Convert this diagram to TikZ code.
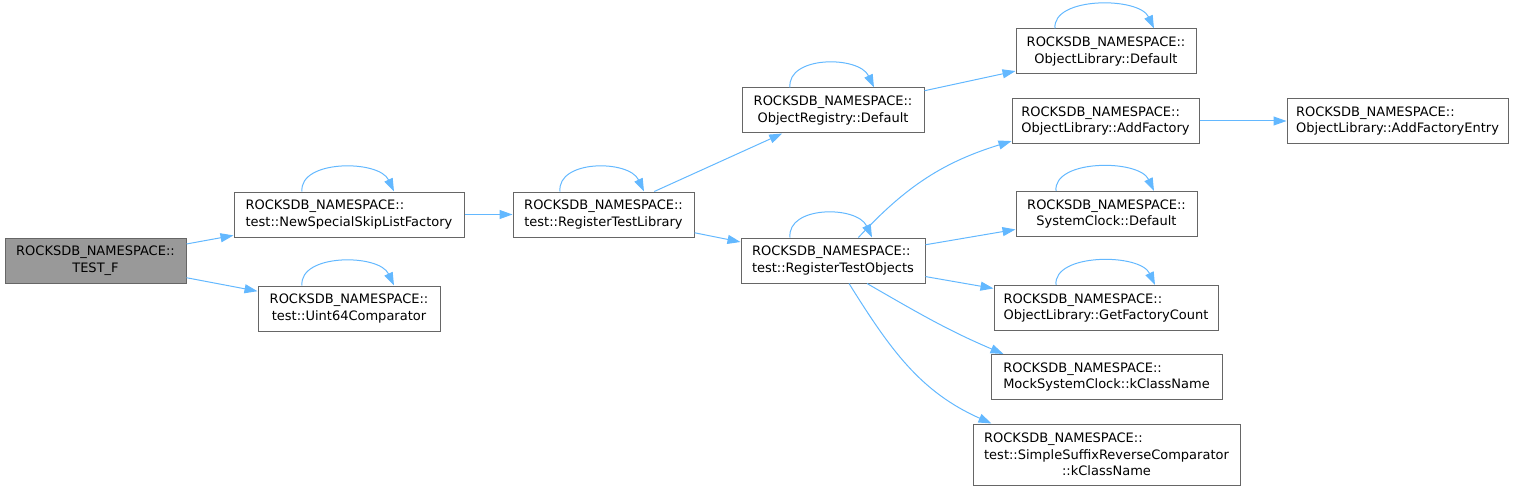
\documentclass[tikz,border=0pt]{standalone}
\usepackage{fontspec}
\setmainfont{DejaVu Sans}
\usetikzlibrary{arrows.meta, positioning, calc}
\definecolor{callblue}{HTML}{63B8FF}
\definecolor{fnborder}{HTML}{666666}
\definecolor{rootgray}{HTML}{999999}

\begin{document}
\begin{tikzpicture}[
      x=1pt, y=1pt,
      fn/.style={draw=fnborder, fill=white, line width=1pt, align=left,
        minimum height=45pt, inner xsep=4pt, inner ysep=2pt,
        font=\fontsize{13}{16.7}\selectfont},
      call/.style={->, draw=callblue, line width=1pt},
      >={Triangle[length=13pt, width=9pt]}
    ]
      \useasboundingbox (0,0) rectangle (1516,491);
      \node[fn, fill=rootgray, minimum width=181pt] (testf) at (95.5,230.5)
        {ROCKSDB\_NAMESPACE::\\\hfill TEST\_F\hfill\null};
      \node[fn, minimum width=230pt] (nssl) at (349,276.5)
        {ROCKSDB\_NAMESPACE::\\test::NewSpecialSkipListFactory};
      \node[fn, minimum width=182pt, below=48pt of nssl] (u64)
        {ROCKSDB\_NAMESPACE::\\\hfill test::Uint64Comparator\hfill\null};
      \node[fn, minimum width=181pt, right=48pt of nssl] (rtl)
        {ROCKSDB\_NAMESPACE::\\\hfill test::RegisterTestLibrary\hfill\null};
      \node[fn, minimum width=182pt] (ordr) at (833,380.5)
        {ROCKSDB\_NAMESPACE::\\\hfill ObjectRegistry::Default\hfill\null};
      \node[fn, minimum width=184pt] (rto) at (833,230.5)
        {ROCKSDB\_NAMESPACE::\\test::RegisterTestObjects};
      \node[fn, minimum width=180pt] (old) at (1106,439.5)
        {ROCKSDB\_NAMESPACE::\\\hfill ObjectLibrary::Default\hfill\null};
      \node[fn, minimum width=187pt] (af) at (1105.5,370)
        {ROCKSDB\_NAMESPACE::\\ObjectLibrary::AddFactory};
      \node[fn, minimum width=221pt, right=87pt of af] (afe)
        {ROCKSDB\_NAMESPACE::\\ObjectLibrary::AddFactoryEntry};
      \node[fn, minimum width=181pt] (scd) at (1106.5,277)
        {ROCKSDB\_NAMESPACE::\\\hfill SystemClock::Default\hfill\null};
      \node[fn, minimum width=224pt] (gfc) at (1106,183)
        {ROCKSDB\_NAMESPACE::\\ObjectLibrary::GetFactoryCount};
      \node[fn, minimum width=231pt] (msc) at (1106.5,114)
        {ROCKSDB\_NAMESPACE::\\MockSystemClock::kClassName};
      \node[fn, minimum width=267pt, minimum height=61pt] (sss) at (1106.5,36.5)
        {ROCKSDB\_NAMESPACE::\\test::SimpleSuffixReverseComparator\\\hfill ::kClassName\hfill\null};
      % calls
      \draw[call] (testf) -- (nssl);
      \draw[call] (testf) -- (u64);
      \draw[call] (nssl) -- (rtl);
      \draw[call] (rtl) -- (ordr);
      \draw[call] (rtl) -- (rto);
      \draw[call] (ordr) -- (old);
      \draw[call] (rto) to[bend left=15] (af);
      \draw[call] (af) -- (afe);
      \draw[call] (rto) -- (scd);
      \draw[call] (rto) -- (gfc);
      \draw[call] ($(rto.south)+(34,0)$) to[out=-30, in=157]
        ($(msc.north west)+(13,0)$);
      \draw[call] ($(rto.south)+(16,0)$) to[out=-58, in=156]
        ($(sss.north west)+(19,0)$);
      % recursive calls
      \foreach \n/\a/\b in {nssl/-47/45, u64/-47/45, rtl/-43.5/40.5, ordr/-43/41,
          rto/-43/39, old/-51/48, scd/-50.5/47.5, gfc/-50/49}
        \draw[call] ($(\n.north)+(\a,0)$) .. controls +(-3,32) and +(-15,32)
          .. ($(\n.north)+(\b,0)$);
    \end{tikzpicture}
\end{document}
